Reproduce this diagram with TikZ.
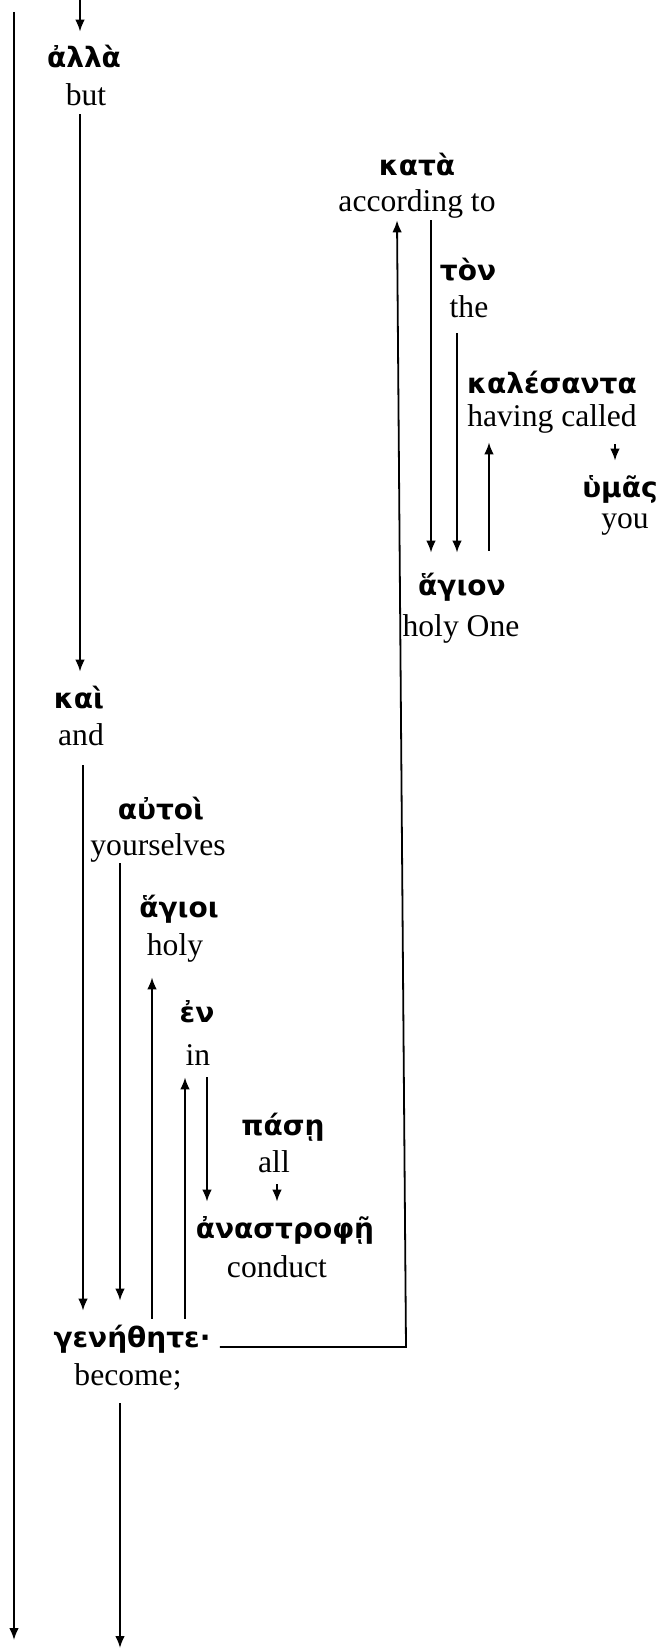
\documentclass[tikz,border=0pt]{standalone}
\usepackage{fontspec}
\setmainfont{Liberation Serif}
\newfontfamily\greekfont{DejaVu Sans}
\usetikzlibrary{arrows.meta}
\tikzset{
  gk/.style={font=\greekfont\bfseries\fontsize{14}{16}\selectfont, anchor=base, inner sep=0pt, text height=18pt, text depth=3pt},
  en/.style={font=\fontsize{15.8}{18}\selectfont, anchor=base, inner sep=0pt, text height=11pt, text depth=4pt},
  link/.style={line width=0.9pt, -{Latex[length=6pt,width=4.8pt]}},
  plain/.style={line width=0.9pt}
}

\begin{document}
\begin{tikzpicture}[x=0.5pt,y=-0.5pt]
        \useasboundingbox (0,0) rectangle (664,1648);
        \node[gk] (alla) at (84,68) {ἀλλὰ};
        \node[en] (allaE) at (86,106) {but};
        \node[gk] (kata) at (417,176) {κατὰ};
        \node[en] (kataE) at (417,212) {according to};
        \node[gk] (ton) at (468,280) {τὸν};
        \node[en] (tonE) at (469,317) {the};
        \node[gk] (kalesanta) at (552,393) {καλέσαντα};
        \node[en] (kalesantaE) at (552,426) {having called};
        \node[gk] (humas) at (620,497) {ὑμᾶς};
        \node[en] (humasE) at (625,528) {you};
        \node[gk] (hagion) at (462,595) {ἅγιον};
        \node[en] (hagionE) at (461,636) {holy One};
        \node[gk] (kai) at (79,708) {καὶ};
        \node[en] (kaiE) at (81,745) {and};
        \node[gk] (autoi) at (161,819) {αὐτοὶ};
        \node[en] (autoiE) at (158,855) {yourselves};
        \node[gk] (hagioi) at (179,917) {ἅγιοι};
        \node[en] (hagioiE) at (175,955) {holy};
        \node[gk] (en) at (197,1022) {ἐν};
        \node[en] (enE) at (198,1065) {in};
        \node[gk] (pase) at (283,1135) {πάσῃ};
        \node[en] (paseE) at (274,1172) {all};
        \node[gk] (anastrophe) at (285,1238) {ἀναστροφῇ};
        \node[en] (anastropheE) at (277,1277) {conduct};
        \node[gk] (genethete) at (132,1347) {γενήθητε·};
        \node[en] (genetheteE) at (128,1385) {become;};
        \coordinate (top) at (80,0);
        \coordinate (leftA) at (14,12);
        \coordinate (leftB) at (14,1640);
        \coordinate (bottom) at (120,1648);
        \draw[link] (top) -- (top |- alla.north);
        \draw[link] (leftA) -- (leftB);
        \draw[link] (80,0 |- allaE.south) -- (80,0 |- kai.north);
        \draw[link, shorten <=6pt] (83,0 |- kaiE.south) -- (83,0 |- genethete.north);
        \draw[link, shorten >=5pt] (120,0 |- autoiE.south) -- (120,0 |- genethete.north);
        \draw[link, shorten <=-4pt, shorten >=7pt] (152,0 |- genethete.north) -- (152,0 |- hagioiE.south);
        \draw[link, shorten <=-4pt, shorten >=2pt] (185,0 |- genethete.north) -- (185,0 |- enE.south);
        \draw[link, shorten <=2pt] (207,0 |- enE.south) -- (207,0 |- anastrophe.north);
        \draw[link, shorten <=2pt] (277,0 |- paseE.south) -- (277,0 |- anastrophe.north);
        \draw[link, shorten <=4.5pt] (genethete.base east) -- (406,0 |- genethete.base) -- (397,0 |- kataE.south);
        \draw[link, shorten >=3pt] (431,0 |- kataE.south) -- (431,0 |- hagion.north);
        \draw[link, shorten <=4pt, shorten >=3pt] (457,0 |- tonE.south) -- (457,0 |- hagion.north);
        \draw[link, shorten <=4pt, shorten >=4pt] (489,0 |- hagion.north) -- (489,0 |- kalesantaE.south);
        \draw[link, shorten <=5pt] (615,0 |- kalesantaE.south) -- (615,0 |- humas.north);
        \draw[link, shorten <=5pt] (120,0 |- genetheteE.south) -- (bottom);
\end{tikzpicture}
\end{document}
